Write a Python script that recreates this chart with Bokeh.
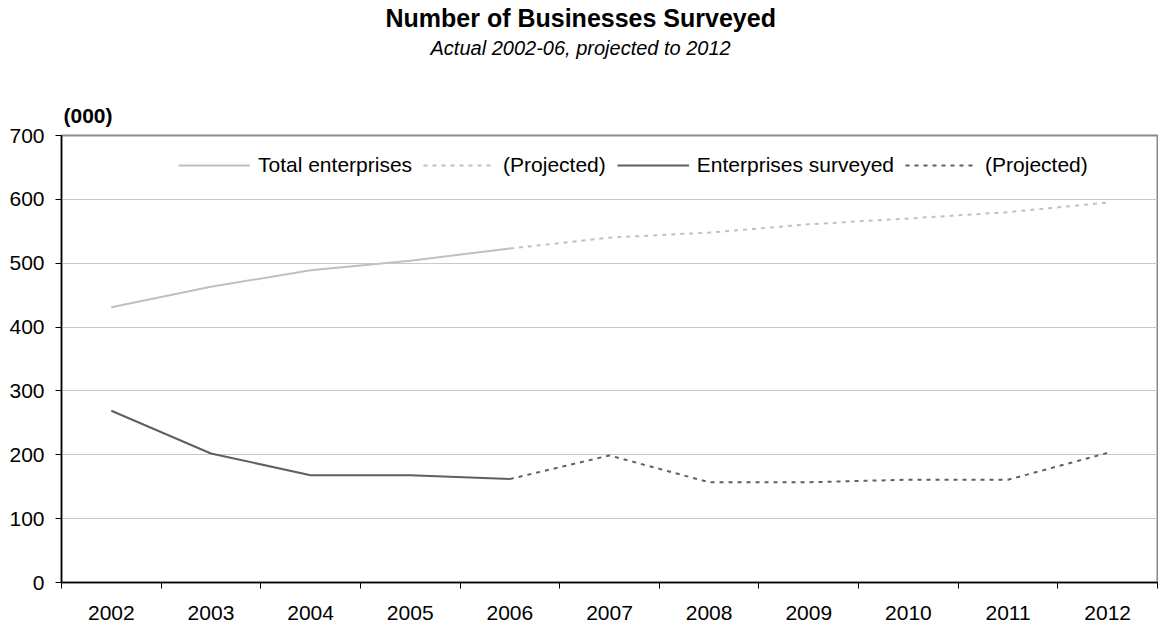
from bokeh.plotting import figure
from bokeh.models import (Range1d, FixedTicker, Legend, LegendItem, Title,
                          ColumnDataSource)
from bokeh.embed import file_html
from bokeh.resources import INLINE

# ---------------- data ----------------
years = ["2002", "2003", "2004", "2005", "2006", "2007", "2008", "2009", "2010", "2011", "2012"]
actual_years = ["2002", "2003", "2004", "2005", "2006"]
proj_years = ["2006", "2007", "2008", "2009", "2010", "2011", "2012"]

total_actual = [431, 463, 489, 504, 523]
total_proj = [523, 540, 548, 561, 570, 580, 595]
surveyed_actual = [269, 202, 168, 168, 162]
surveyed_proj = [162, 199, 157, 157, 161, 161, 203]

y_ticks = [0, 100, 200, 300, 400, 500, 600, 700]

title_text = "Number of Businesses Surveyed"
subtitle_text = "Actual 2002-06, projected to 2012"
unit_text = "(000)"

# category centres on a numeric band axis (one unit per year)
pos = {y: i + 0.5 for i, y in enumerate(years)}

FONT = "Liberation Sans"
C_TOTAL = "#c0c0c0"
C_SURV = "#606060"

p = figure(width=1158, height=626, output_backend="svg", toolbar_location=None,
           x_range=Range1d(0, len(years)), y_range=Range1d(0, 700),
           min_border_left=61, min_border_right=1, min_border_top=134,
           min_border_bottom=44)
p.background_fill_color = "white"
p.border_fill_color = "white"
p.outline_line_color = "#8a8a8a"
p.outline_line_width = 2

src_ta = ColumnDataSource(dict(x=[pos[y] for y in actual_years], y=total_actual))
src_tp = ColumnDataSource(dict(x=[pos[y] for y in proj_years], y=total_proj))
src_sa = ColumnDataSource(dict(x=[pos[y] for y in actual_years], y=surveyed_actual))
src_sp = ColumnDataSource(dict(x=[pos[y] for y in proj_years], y=surveyed_proj))

r_ta = p.line("x", "y", source=src_ta, line_color=C_TOTAL, line_width=2)
r_tp = p.line("x", "y", source=src_tp, line_color=C_TOTAL, line_width=2, line_dash="4 5")
r_sa = p.line("x", "y", source=src_sa, line_color=C_SURV, line_width=2)
r_sp = p.line("x", "y", source=src_sp, line_color=C_SURV, line_width=2, line_dash="4 5")

# axes
xa = p.xaxis[0]
xa.ticker = FixedTicker(ticks=[pos[y] for y in years], minor_ticks=list(range(len(years) + 1)))
xa.major_label_overrides = {pos[y]: y for y in years}
xa.major_tick_line_color = None
xa.major_tick_out = 6
xa.major_tick_in = 0
xa.minor_tick_line_color = "black"
xa.minor_tick_out = 6
xa.minor_tick_in = 0
xa.major_label_standoff = 17
xa.major_label_text_font = FONT
xa.major_label_text_font_size = "21px"
xa.major_label_text_color = "black"
xa.axis_line_color = "black"
xa.axis_line_width = 1.5

ya = p.yaxis[0]
ya.ticker = FixedTicker(ticks=y_ticks)
ya.minor_tick_line_color = None
ya.major_tick_out = 6
ya.major_tick_in = 0
ya.major_tick_line_color = "black"
ya.major_label_standoff = 11
ya.major_label_text_font = FONT
ya.major_label_text_font_size = "21px"
ya.major_label_text_color = "black"
ya.axis_line_color = "black"
ya.axis_line_width = 1.5

p.xgrid.grid_line_color = None
p.ygrid.grid_line_color = "#c8c8c8"
p.ygrid.grid_line_width = 1
p.ygrid.ticker = FixedTicker(ticks=y_ticks)

# legend
legend = Legend(items=[
    LegendItem(label="Total enterprises", renderers=[r_ta]),
    LegendItem(label="(Projected)", renderers=[r_tp]),
    LegendItem(label="Enterprises surveyed", renderers=[r_sa]),
    LegendItem(label="(Projected)", renderers=[r_sp]),
], orientation="horizontal", location=(117, 405))
legend.label_text_font = FONT
legend.label_text_font_size = "21px"
legend.label_text_color = "black"
legend.glyph_width = 72
legend.glyph_height = 20
legend.label_height = 20
legend.label_standoff = 8
legend.spacing = 11
legend.padding = 0
legend.margin = 0
legend.border_line_color = None
legend.background_fill_alpha = 0
p.add_layout(legend, "center")

# titles, stacked above the frame (first added = closest to the frame)
p.title.text = ""
p.add_layout(Title(text=unit_text, text_font=FONT, text_font_size="21px",
                   text_font_style="bold", align="left", offset=2, standoff=17,
                   text_color="black"), "above")
p.add_layout(Title(text=" ", text_font=FONT, text_font_size="2px",
                   align="left", offset=0, standoff=29), "above")
p.add_layout(Title(text=subtitle_text, text_font=FONT, text_font_size="20px",
                   text_font_style="italic", align="left", offset=369, standoff=4,
                   text_color="black"), "above")
p.add_layout(Title(text=title_text, text_font=FONT, text_font_size="25px",
                   text_font_style="bold", align="left", offset=324, standoff=2,
                   text_color="black"), "above")

open("out.html", "w").write(file_html(p, INLINE))
